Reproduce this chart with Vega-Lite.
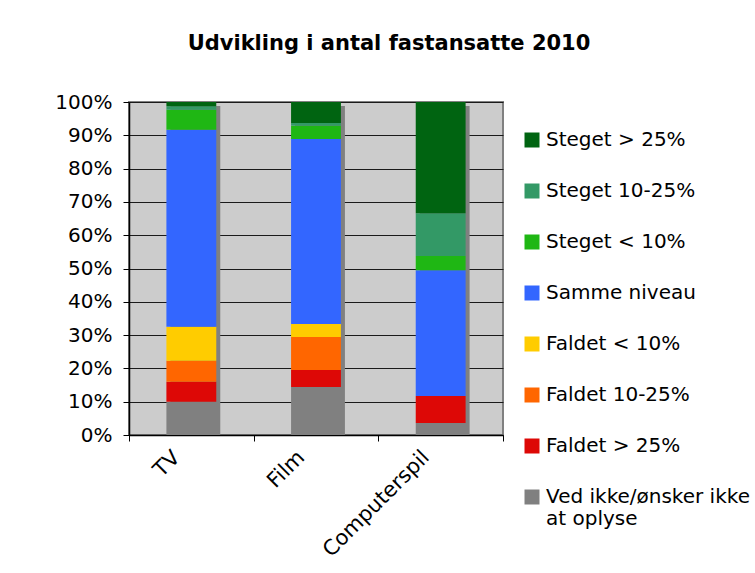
{
  "$schema": "https://vega.github.io/schema/vega-lite/v6.json",
  "width": 374,
  "height": 333,
  "autosize": {"type": "none"},
  "padding": {"left": 129, "top": 102, "right": 252, "bottom": 138},
  "background": "white",
  "title": {
    "text": "Udvikling i antal fastansatte 2010",
    "font": "DejaVu Sans",
    "fontSize": 21,
    "fontWeight": "bold",
    "color": "#000000",
    "anchor": "middle",
    "dx": 73,
    "offset": 38
  },
  "config": {
    "view": {"fill": "#cccccc", "stroke": "#808080", "strokeWidth": 2},
    "font": "DejaVu Sans",
    "axisY": {
      "title": null,
      "values": [0, 10, 20, 30, 40, 50, 60, 70, 80, 90, 100],
      "labelExpr": "datum.value + '%'",
      "labelOverlap": false,
      "labelFontSize": 20,
      "labelColor": "#000000",
      "labelPadding": 11,
      "tickColor": "#000000",
      "tickSize": 6,
      "domainColor": "#000000",
      "domainWidth": 1.5,
      "grid": true,
      "gridColor": "#1a1a1a",
      "gridWidth": 1.2
    }
  },
  "data": {
    "values": [
      {"kategori": "TV", "status": "Ved ikke/ønsker ikke at oplyse", "andel": 10},
      {"kategori": "TV", "status": "Faldet > 25%", "andel": 6},
      {"kategori": "TV", "status": "Faldet 10-25%", "andel": 6.3},
      {"kategori": "TV", "status": "Faldet < 10%", "andel": 10.2},
      {"kategori": "TV", "status": "Samme niveau", "andel": 59.2},
      {"kategori": "TV", "status": "Steget < 10%", "andel": 6},
      {"kategori": "TV", "status": "Steget 10-25%", "andel": 1},
      {"kategori": "TV", "status": "Steget > 25%", "andel": 1.3},
      {"kategori": "Film", "status": "Ved ikke/ønsker ikke at oplyse", "andel": 14.4},
      {"kategori": "Film", "status": "Faldet > 25%", "andel": 5.1},
      {"kategori": "Film", "status": "Faldet 10-25%", "andel": 9.9},
      {"kategori": "Film", "status": "Faldet < 10%", "andel": 3.9},
      {"kategori": "Film", "status": "Samme niveau", "andel": 55.6},
      {"kategori": "Film", "status": "Steget < 10%", "andel": 4},
      {"kategori": "Film", "status": "Steget 10-25%", "andel": 0.8},
      {"kategori": "Film", "status": "Steget > 25%", "andel": 6.3},
      {"kategori": "Computerspil", "status": "Ved ikke/ønsker ikke at oplyse", "andel": 3.6},
      {"kategori": "Computerspil", "status": "Faldet > 25%", "andel": 8.1},
      {"kategori": "Computerspil", "status": "Samme niveau", "andel": 37.8},
      {"kategori": "Computerspil", "status": "Steget < 10%", "andel": 4.25},
      {"kategori": "Computerspil", "status": "Steget 10-25%", "andel": 12.85},
      {"kategori": "Computerspil", "status": "Steget > 25%", "andel": 33.4}
    ]
  },
  "transform": [
    {"calculate": "indexof(['Ved ikke/ønsker ikke at oplyse', 'Faldet > 25%', 'Faldet 10-25%', 'Faldet < 10%', 'Samme niveau', 'Steget < 10%', 'Steget 10-25%', 'Steget > 25%'], datum.status)", "as": "stakrang"}
  ],
  "encoding": {
    "x": {
      "field": "kategori",
      "type": "nominal",
      "sort": ["TV", "Film", "Computerspil"],
      "scale": {"paddingInner": 0, "paddingOuter": 0},
      "axis": {
        "title": null,
        "labelAngle": -45,
        "labelAlign": "right",
        "labelBaseline": "middle",
        "labelFontSize": 21,
        "labelColor": "#000000",
        "labelPadding": 13,
        "labelOffset": -15,
        "tickBand": "extent",
        "tickColor": "#000000",
        "tickSize": 6,
        "domainColor": "#000000",
        "domainWidth": 1.5,
        "grid": false
      }
    }
  },
  "layer": [
    {
      "mark": {"type": "bar", "width": {"band": 0.4}, "color": "#808080", "xOffset": 4, "yOffset": 4, "clip": true},
      "encoding": {
        "y": {"aggregate": "sum", "field": "andel", "type": "quantitative", "stack": null, "scale": {"domain": [0, 100]}}
      }
    },
    {
      "mark": {"type": "bar", "width": {"band": 0.4}},
      "encoding": {
        "y": {
          "field": "andel",
          "type": "quantitative",
          "stack": "zero",
          "scale": {"domain": [0, 100]}
        },
        "order": {"field": "stakrang", "type": "quantitative", "sort": "ascending"},
        "color": {
          "field": "status",
          "type": "nominal",
          "scale": {
            "domain": ["Ved ikke/ønsker ikke at oplyse", "Faldet > 25%", "Faldet 10-25%", "Faldet < 10%", "Samme niveau", "Steget < 10%", "Steget 10-25%", "Steget > 25%"],
            "range": ["#808080", "#dd0806", "#ff6600", "#ffcc00", "#3366ff", "#1fb714", "#339966", "#006411"]
          },
          "legend": {
            "title": null,
            "orient": "none",
            "legendX": 393,
            "legendY": 28,
            "values": ["Steget > 25%", "Steget 10-25%", "Steget < 10%", "Samme niveau", "Faldet < 10%", "Faldet 10-25%", "Faldet > 25%", "Ved ikke/ønsker ikke at oplyse"],
            "symbolType": "square",
            "symbolSize": 225,
            "symbolStrokeWidth": 0,
            "labelFontSize": 20,
            "labelColor": "#000000",
            "labelOffset": 4,
            "labelLimit": 0,
            "rowPadding": 31,
            "labelExpr": "datum.label == 'Ved ikke/ønsker ikke at oplyse' ? ['Ved ikke/ønsker ikke', 'at oplyse'] : datum.label"
          }
        }
      }
    }
  ]
}
